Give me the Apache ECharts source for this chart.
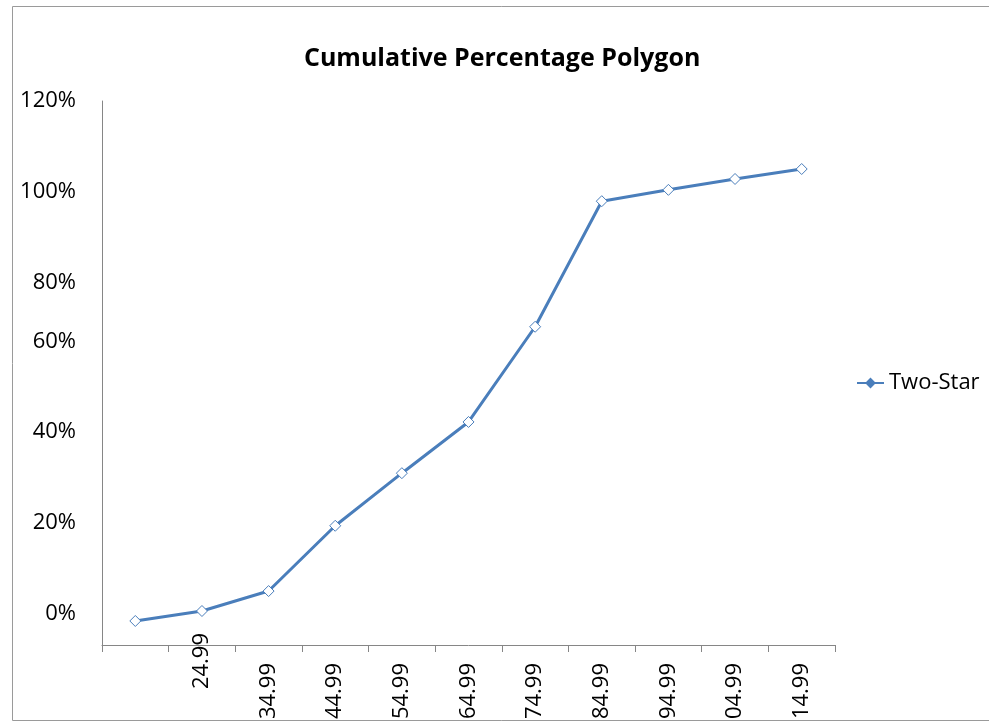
<!DOCTYPE html>
<html><head><meta charset="utf-8">
<script src="https://cdn.jsdelivr.net/npm/echarts@6/dist/echarts.min.js"></script>
<style>html,body{margin:0;padding:0;background:#fff}#c{width:989px;height:723px}</style>
</head><body><div id="c"></div>
<script>
const titleText = 'Cumulative Percentage Polygon';
const seriesName = 'Two-Star';
const categories = ['', '24.99', '34.99', '44.99', '54.99', '64.99', '74.99', '84.99', '94.99', '104.99', '114.99'];
const twoStar = [5.3, 7.5, 11.9, 26.3, 37.9, 49.2, 70.2, 97.9, 100.4, 102.8, 105.0];

const FONT = '"Open Sans", Lato, sans-serif';
const chart = echarts.init(document.getElementById('c'), null, {renderer: 'canvas'});
chart.setOption({
  animation: false,
  backgroundColor: '#ffffff',
  title: {
    text: titleText, left: 304, top: 46, padding: 0,
    textStyle: {fontFamily: FONT, fontSize: 25, fontWeight: 'bold', color: '#000'}
  },
  legend: {
    data: [seriesName], left: 856, top: 372, padding: 0, itemWidth: 27, itemHeight: 10, itemGap: 5,
    textStyle: {fontFamily: FONT, fontSize: 22, color: '#000'},
    itemStyle: {color: '#4a7ebb', borderColor: '#4a7ebb'}
  },
  graphic: [{
    type: 'rect', left: 10, top: 4, silent: true,
    shape: {width: 1000, height: 714},
    style: {fill: 'none', stroke: '#9a9a9a', lineWidth: 1}
  }],
  grid: {left: 102, right: 154, top: 101, bottom: 78, containLabel: false, outerBoundsMode: 'none'},
  xAxis: {
    type: 'category', data: categories, boundaryGap: true,
    axisLine: {lineStyle: {color: '#868686', width: 1}},
    axisTick: {show: true, length: 7, interval: 0, lineStyle: {color: '#868686'}},
    axisLabel: {
      interval: 0, rotate: 90, margin: -12, color: '#000',
      fontFamily: FONT, fontSize: 22,
      formatter: (v, i) => i === 1 ? '{a|' + v + '}' : '{b|' + v + '}',
      rich: {a: {fontFamily: FONT, fontSize: 22, color: '#000'},
             b: {fontFamily: FONT, fontSize: 22, color: '#000', padding: [0, 30, 0, 0]}}
    },
    splitLine: {show: false}
  },
  yAxis: {
    type: 'value', min: 0, max: 120, interval: 20,
    axisLine: {show: true, lineStyle: {color: '#868686', width: 1}},
    axisTick: {show: false},
    splitLine: {show: false},
    axisLabel: {
      margin: 26, color: '#000', fontFamily: FONT, fontSize: 22,
      formatter: (v) => v <= 60 ? '{s|' + v + '%}' : '{t|' + v + '%}',
      rich: {s: {fontFamily: FONT, fontSize: 22, color: '#000', padding: [0, 0, 63, 0]},
             t: {fontFamily: FONT, fontSize: 22, color: '#000'}}
    }
  },
  series: [{
    name: seriesName, type: 'line', data: twoStar,
    symbol: 'diamond', symbolSize: 11, showSymbol: true,
    lineStyle: {color: '#4a7ebb', width: 3},
    itemStyle: {color: '#ffffff', borderColor: '#4a7ebb', borderWidth: 1}
  }]
});
</script></body></html>
